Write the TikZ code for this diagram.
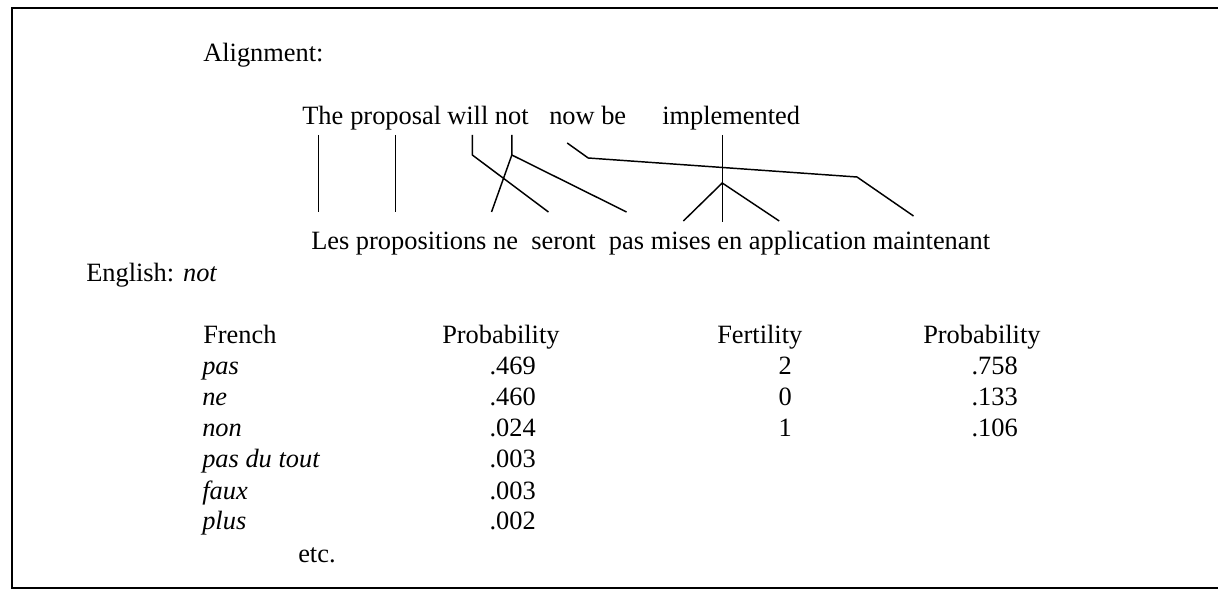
\documentclass[tikz,border=0pt]{standalone}
\usepackage{fontspec}
\setmainfont{Liberation Serif}
\usetikzlibrary{positioning}

\begin{document}
\begin{tikzpicture}[x=0.75pt, y=-0.75pt,
    every node/.style={inner sep=0pt, font=\fontsize{19.8}{24}\selectfont},
    txt/.style={anchor=base west},
    num/.style={anchor=base east},
    upword/.style={anchor=base west, text height=13.9pt, text depth=4pt, outer ysep=3.5pt},
    downword/.style={anchor=base west, text height=13.9pt, text depth=4pt, outer ysep=14.6pt},
    link/.style={line width=1.1pt}]
            \useasboundingbox (0,0) rectangle (1218,591);

            % open frame
            \draw[line width=1.5pt] (1218,8) -| (12,588) -- (1218,588);

            \node[txt] (align) at (203,62) {Alignment:};

            % English sentence
            \node[upword] (the) at (302,125) {The};
            \node[upword] (proposal) at (350,125) {proposal};
            \node[upword] (will) at (447,125) {will};
            \node[upword] (not) at (494.7,125) {not};
            \node[upword] (now) at (549,125) {now};
            \node[upword] (be) at (601,125) {be};
            \node[upword] (implemented) at (662,125) {implemented};

            % French sentence
            \node[downword] (les) at (311,250) {Les};
            \node[downword] (propositions) at (355.7,250) {propositions};
            \node[downword] (ne) at (492.8,250) {ne};
            \node[downword] (seront) at (531,250) {seront};
            \node[downword] (pas) at (608.7,250) {pas};
            \node[downword] (mises) at (650.5,250) {mises};
            \node[downword] (en) at (717.2,250) {en};
            \node[downword] (application) at (748.7,250) {application};
            \node[downword] (maintenant) at (872.6,250) {maintenant};

            % alignment links
            \draw[link] ([xshift=-3.4pt]the.south) coordinate (t1) -- (t1 |- les.north);
            \draw[link] (proposal.south) -- (proposal.south |- propositions.north);
            \draw[link] ([xshift=3.4pt]will.south) -- ++(0,-15pt) -- ([xshift=-11.3pt]seront.north);
            \draw[link] (not.south) -- ++(0,-15pt) coordinate (jnot) -- ([xshift=-10.5pt]ne.north);
            \draw[link] (jnot) -- (pas.north);
            \coordinate (bnow) at (857,177);
            \draw[link] ([xshift=-3.6pt,yshift=-6pt]now.south) -- ++(15.75pt,-11.25pt) -- (bnow) -- ([xshift=-13.5pt,yshift=-3pt]maintenant.north);
            \draw[link] ([xshift=-6.7pt]implemented.south) coordinate (i1) -- ++(0,-65.25pt);
            \coordinate (jimp) at ([yshift=-36pt]i1);
            \draw[link] ([xshift=1.9pt,yshift=-6.75pt]mises.north) -- (jimp) -- ([xshift=-21.3pt,yshift=-6.75pt]application.north);

            \node[txt] (english) at (86,282) {English: \textit{not}};

            % table header
            \node[txt] (hfrench) at (203,344) {French};
            \node[txt] (hprob) at (442,344) {Probability};
            \node[txt] (hfert) at (717,344) {Fertility};
            \node[txt] (hprobf) at (923,344) {Probability};

            % translation probabilities
            \node[txt] (f1) at (202,375) {\textit{pas}};         \node[num] (p1) at (536,375) {.469};
            \node[txt] (f2) at (202,406) {\textit{ne}};          \node[num] (p2) at (536,406) {.460};
            \node[txt] (f3) at (202,437) {\textit{non}};         \node[num] (p3) at (536,437) {.024};
            \node[txt] (f4) at (202,468) {\textit{pas du tout}}; \node[num] (p4) at (536,468) {.003};
            \node[txt] (f5) at (202,499) {\textit{faux}};        \node[num] (p5) at (536,499) {.003};
            \node[txt] (f6) at (202,530) {\textit{plus}};        \node[num] (p6) at (536,530) {.002};
            \node[txt] (etc) at (298,562) {etc.};

            % fertility probabilities
            \node[num] (n1) at (792,375) {2}; \node[num] (q1) at (1018,375) {.758};
            \node[num] (n2) at (792,406) {0}; \node[num] (q2) at (1018,406) {.133};
            \node[num] (n3) at (792,437) {1}; \node[num] (q3) at (1018,437) {.106};
\end{tikzpicture}
\end{document}
